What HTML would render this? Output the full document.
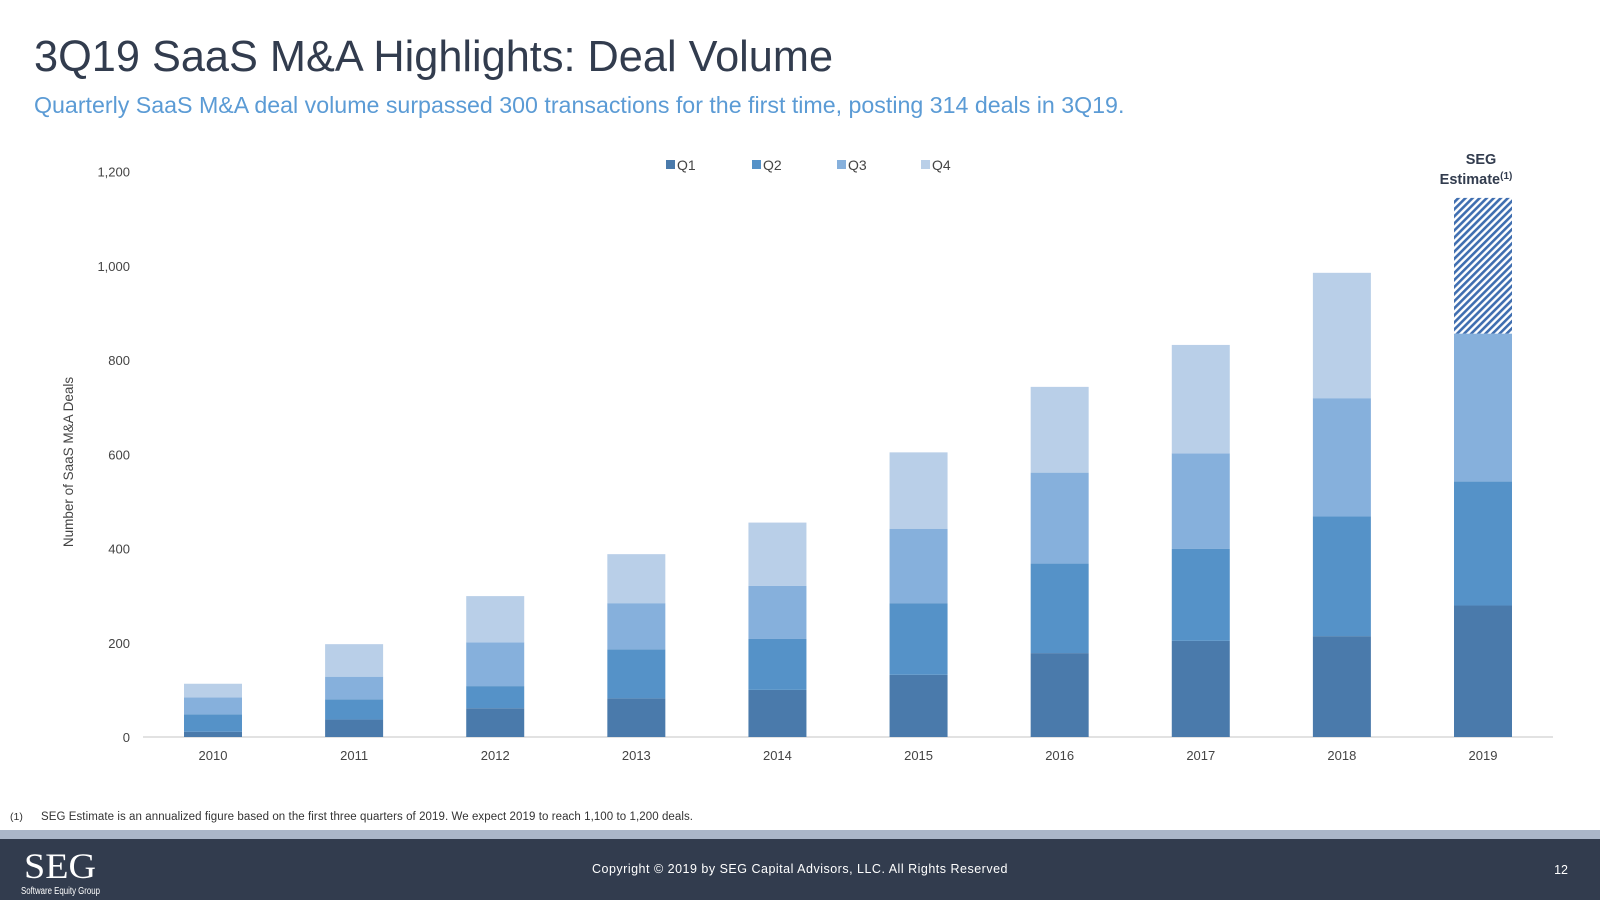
<!DOCTYPE html>
<html><head><meta charset="utf-8"><style>
html,body{margin:0;padding:0;background:#fff;}
svg{display:block;font-family:"Liberation Sans",Arial,sans-serif;}
</style></head><body>
<svg id="page" width="1600" height="900" viewBox="0 0 1600 900" xmlns="http://www.w3.org/2000/svg">
<defs>
<pattern id="hatch" patternUnits="userSpaceOnUse" width="5" height="5" patternTransform="rotate(45)">
<rect width="5" height="5" fill="#ffffff"/>
<rect width="2.6" height="5" fill="#3f6eb0"/>
</pattern>
</defs>
<text x="34" y="71" font-size="43.3" fill="#323c4e">3Q19 SaaS M&amp;A Highlights: Deal Volume</text>
<text x="34" y="113" font-size="23.2" fill="#5b9bd5">Quarterly SaaS M&amp;A deal volume surpassed 300 transactions for the first time, posting 314 deals in 3Q19.</text>
<g id="chart"></g>
<text x="1481" y="164" font-size="14.5" font-weight="bold" fill="#323c4e" text-anchor="middle">SEG</text>
<text x="1476" y="184" font-size="14.5" font-weight="bold" fill="#323c4e" text-anchor="middle">Estimate<tspan font-size="10" dy="-5">(1)</tspan></text>
<text x="73" y="462" font-size="13.5" fill="#444" text-anchor="middle" transform="rotate(-90 73 462)">Number of SaaS M&amp;A Deals</text>
<text x="10" y="820" font-size="10.5" fill="#333">(1)</text>
<text x="41" y="820" font-size="11.5" fill="#333" textLength="652" lengthAdjust="spacing">SEG Estimate is an annualized figure based on the first three quarters of 2019. We expect 2019 to reach 1,100 to 1,200 deals.</text>
<rect x="0" y="830" width="1600" height="9" fill="#aab6c8"/>
<rect x="0" y="839" width="1600" height="61" fill="#323c4e"/>
<text x="24" y="878" font-family="Liberation Serif,serif" font-size="36" fill="#fff" textLength="72" lengthAdjust="spacingAndGlyphs">SEG</text>
<text x="21" y="894" font-size="10" fill="#fff" textLength="79" lengthAdjust="spacingAndGlyphs">Software Equity Group</text>
<text x="800" y="873" font-size="12.5" fill="#fff" text-anchor="middle" letter-spacing="0.5">Copyright © 2019 by SEG Capital Advisors, LLC. All Rights Reserved</text>
<text x="1568" y="874" font-size="12.5" fill="#fff" text-anchor="end">12</text>
</svg>
<script>
const years = ["2010","2011","2012","2013","2014","2015","2016","2017","2018","2019"];
const q1 = [11,37,61,82,100,132,178,204,214,279];
const q2 = [37,43,47,104,108,152,190,195,254,263];
const q3 = [36,48,93,98,113,158,193,203,251,314];
const q4 = [29,69,98,104,134,162,182,230,266,288];
const estimateFlags = [false,false,false,false,false,false,false,false,false,true];
const yTicks = [0,200,400,600,800,1000,1200];
const seriesNames = ["Q1","Q2","Q3","Q4"];
const colors = ["#4a7aab","#5592c8","#86b0dc","#b9cfe8"];

const NS="http://www.w3.org/2000/svg";
const g=document.getElementById('chart');
const y0=737, yTop=171.5, x0=143, x1=1553;
const yScale=v=>y0-(v/1200)*(y0-yTop);
const xCenter=i=>213+i*((1483-213)/(years.length-1));
const bw=58;
function mk(tag,attrs){const e=document.createElementNS(NS,tag);for(const k in attrs)e.setAttribute(k,attrs[k]);g.appendChild(e);return e;}

yTicks.forEach(t=>{
  const e=mk('text',{x:130,y:yScale(t)+5,'font-size':13,fill:'#444','text-anchor':'end'});
  e.textContent=t.toLocaleString('en-US');
  
  
});
const axis=mk('line',{x1:x0,x2:x1,y1:y0,y2:y0,stroke:'#d9d9d9','stroke-width':1.5});



const series=[q1,q2,q3,q4];
years.forEach((yr,i)=>{
  let cum=0;
  series.forEach((s,k)=>{
    const v=s[i];
    const top=yScale(cum+v), bot=yScale(cum);
    const fill=(k===3&&estimateFlags[i])?'url(#hatch)':colors[k];
    const r=mk('rect',{x:xCenter(i)-bw/2,y:top,width:bw,height:bot-top,fill:fill});
    
    
    cum+=v;
  });
  const lb=mk('text',{x:xCenter(i),y:760,'font-size':13,fill:'#444','text-anchor':'middle'});
  lb.textContent=yr;
  
  
});

const legendX=[666,752,837,921];
seriesNames.forEach((n,k)=>{
  const sw=mk('rect',{x:legendX[k],y:160,width:9,height:9,fill:colors[k]});
  
  
  const t=mk('text',{x:legendX[k]+11,y:170,'font-size':14,fill:'#444'});
  t.textContent=n;
  
  
});
</script>
</body></html>
